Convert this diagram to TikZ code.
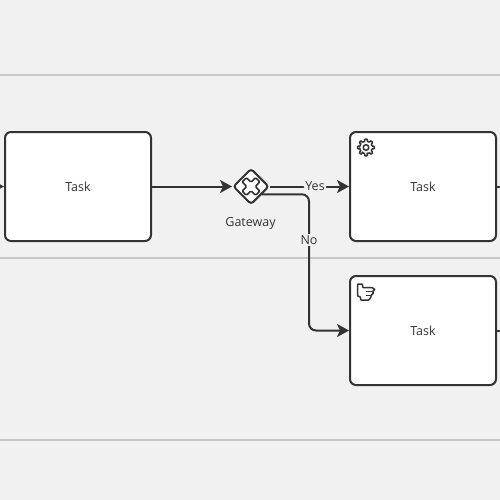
\documentclass[tikz,border=0pt]{standalone}
\usepackage{fontspec}
\setmainfont{Open Sans}
\usetikzlibrary{arrows.meta,shapes.geometric}
\definecolor{fond}{HTML}{F1F1F1}
\definecolor{encre}{HTML}{333333}
\definecolor{couloir}{HTML}{C9C9C9}
\tikzset{
	tache/.style={draw=encre, line width=2pt, fill=white, rounded corners=6pt, minimum width=146pt, minimum height=109pt, inner sep=0pt, text=encre, font=\fontsize{12.5}{14}\selectfont},
	porte/.style={diamond, draw=encre, line width=2pt, fill=white, rounded corners=3pt, minimum width=36pt, minimum height=36pt, inner sep=0pt},
	flux/.style={draw=encre, line width=2pt, rounded corners=7pt, -{Stealth[length=12pt,width=13pt,inset=3pt]}},
	brin/.style={draw=encre, line width=2pt},
	etiq/.style={fill=fond, inner sep=1.5pt, text=encre, font=\fontsize{12.5}{14}\selectfont},
	icone/.style={draw=encre, line width=1.5pt, line join=round, rounded corners=0.6pt}
}
\begin{document}
\begin{tikzpicture}[x=1pt, y=-1pt]
	\useasboundingbox (0,0) rectangle (500,500);
	\fill[fond] (0,0) rectangle (500,500);
	%Couloirs
	\draw[couloir, line width=1.2pt] (0,75) -- (500,75);
	\draw[couloir, line width=1.2pt] (0,258) -- (500,258);
	\draw[couloir, line width=1.2pt] (0,440) -- (500,440);
	%Noeuds du diagramme
	\node[tache] (TaskA) at (78,186.5) {Task};
	\node[tache] (TaskService) at (423,186.5) {Task};
	\node[tache] (TaskManuel) at (423,330.5) {Task};
	\node[porte] (Gateway) at (251,186.5) {};
	\node[text=encre, font=\fontsize{12.5}{14}\selectfont] (GatewayLabel) at (250.5,223) {Gateway};
	\coordinate (entree) at (-8,186.5);
	\coordinate (sortieService) at (503,186.5);
	\coordinate (sortieManuel) at (503,330.5);
	\coordinate (noCoude) at (Gateway.-35 -| 309,0);
	\coordinate (noBas) at (309,330.5);
	%Flux
	\draw[flux] (entree) -- (TaskA.west);
	\draw[flux] (TaskA.east) -- (Gateway.west);
	\draw[flux] (Gateway.east) -- node[etiq, pos=0.57] (Yes) {Yes} (TaskService.west);
	\draw[flux] (Gateway.-35) -- (noCoude) -- (noBas) -- (TaskManuel.west);
	\node[etiq] (No) at (309,240) {No};
	\draw[brin] (TaskService.east) -- (sortieService);
	\draw[brin] (TaskManuel.east) -- (sortieManuel);
	%Croix de la porte
	\draw[icone, line width=1.6pt, rounded corners=1.2pt, shift={(251,186.5)}, rotate=45]
		(-3,-3) -- (-3,-9.5) -- (3,-9.5) -- (3,-3) -- (9.5,-3) -- (9.5,3) -- (3,3) -- (3,9.5) -- (-3,9.5) -- (-3,3) -- (-9.5,3) -- (-9.5,-3) -- cycle;
	%Roue dentee
	\begin{scope}[shift={(366,147.5)}]
		\draw[icone] (-11:6.3) \foreach \a in {0,45,...,315} {
			-- (\a-11:6.3) -- (\a-9:8.5) -- (\a+9:8.5) -- (\a+11:6.3) -- (\a+34:6.3)
		} -- cycle;
		\draw[icone] (0,0) circle (2.8);
	\end{scope}
	%Main
	\draw[icone] (357.5,284) -- (362.5,284) -- (362.5,287.5) -- (372,287.5) -- (375,289.5) -- (372.5,291.5) -- (373.5,293) -- (371,295.5) -- (371,297) -- (369,300) -- (360.5,300) -- (360.5,297) -- (357.5,296) -- cycle;
	\draw[icone, line width=1.1pt] (366,291.5) -- (372.5,291.5) (366,295.5) -- (371,295.5);
\end{tikzpicture}
\end{document}
